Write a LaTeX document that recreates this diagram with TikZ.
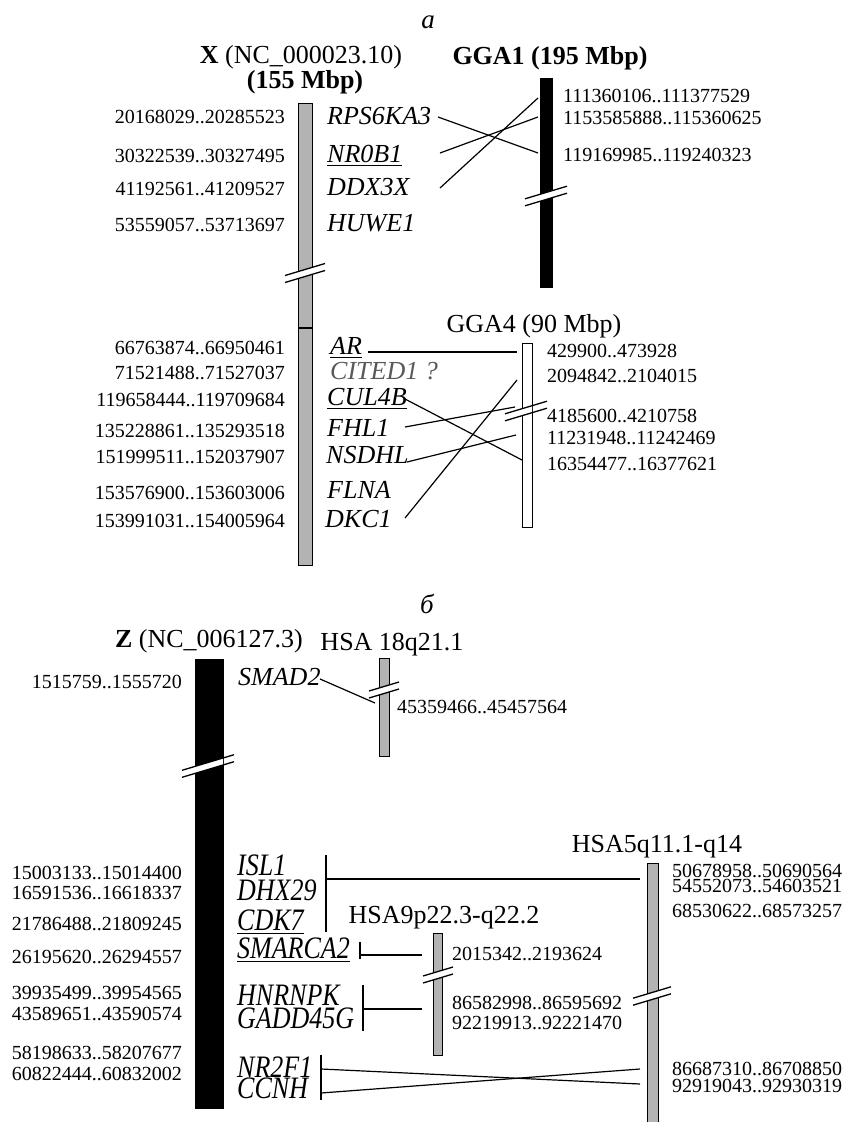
\documentclass[tikz,border=0pt]{standalone}
\usepackage{fontspec}
\setmainfont{Liberation Serif}
\definecolor{chrfill}{HTML}{B3B3B3}
\newcommand\gul[1]{\leavevmode\setbox0=\hbox{#1}\rlap{\vrule width \wd0 height -2.8pt depth 4.2pt}\box0}
\newcommand\vst[1]{\scalebox{1}[1.2]{#1}}
% break mark: centre x, centre y, half length of slash, half width of chromosome
\newcommand\chrbrk[4]{%
  \fill[white] ({#1-#4-1},{#2+0.3*(#4+1)-3.5}) -- ({#1+#4+1},{#2-0.3*(#4+1)-3.5}) -- ({#1+#4+1},{#2-0.3*(#4+1)+3.5}) -- ({#1-#4-1},{#2+0.3*(#4+1)+3.5}) -- cycle;
  \draw[slash] ({#1-#3},{#2+0.3*#3-3.5}) -- ({#1+#3},{#2-0.3*#3-3.5});
  \draw[slash] ({#1-#3},{#2+0.3*#3+3.5}) -- ({#1+#3},{#2-0.3*#3+3.5});}
\begin{document}
\begin{tikzpicture}[x=1pt,y=-1pt,
  num/.style={font=\fontsize{20}{22}\selectfont, inner sep=0pt},
  numL/.style={num, anchor=base east},
  numR/.style={num, anchor=base west},
  gene/.style={font=\fontsize{26}{28}\selectfont\itshape, inner sep=0pt, anchor=base west},
  ttl/.style={font=\fontsize{26}{28}\selectfont, inner sep=0pt, anchor=base},
  ttlb/.style={font=\fontsize{26}{28}\selectfont\bfseries, inner sep=0pt, anchor=base},
  lbl/.style={font=\fontsize{27}{28}\selectfont\itshape, inner sep=0pt, anchor=base},
  chrgray/.style={draw=black, line width=1.4pt, fill=chrfill, inner sep=0pt, anchor=north west},
  chrblack/.style={draw=black, fill=black, line width=0.5pt, inner sep=0pt, anchor=north west},
  chrwhite/.style={draw=black, fill=white, line width=1.4pt, inner sep=0pt, anchor=north west},
  link/.style={line width=1.2pt},
  slash/.style={line width=1.3pt}]
\useasboundingbox (0,0) rectangle (845,1122);
\clip (0,0) rectangle (845,1122);

% ================= part a =================
\node[lbl] (la) at (428,28) {а};
\node[ttl] (xt1) at (301,63) {\textbf{X} (NC\_000023.10)};
\node[ttlb] (xt2) at (305,88) {(155 Mbp)};
\node[ttlb] (g1t) at (550,64) {GGA1 (195 Mbp)};
\node[ttl] (g4t) at (534,332) {GGA4 (90 Mbp)};

% chromosomes
\node[chrgray, minimum width=14, minimum height=462] (X) at (298,103) {};
\draw[line width=1.4pt] (298,328) -- (312,328);
\node[chrblack, minimum width=12, minimum height=209] (G1) at (540,78) {};
\node[chrwhite, minimum width=10, minimum height=184] (G4) at (522,343) {};
\chrbrk{305}{273}{20}{7}
\chrbrk{546}{196}{21}{6}
\chrbrk{526}{411}{21}{5}

% left numbers of X
\node[numL] (n1) at (285,123) {20168029..20285523};
\node[numL] (n2) at (285,162) {30322539..30327495};
\node[numL] (n3) at (285,195) {41192561..41209527};
\node[numL] (n4) at (285,231) {53559057..53713697};
\node[numL] (n5) at (285,354) {66763874..66950461};
\node[numL] (n6) at (285,379) {71521488..71527037};
\node[numL] (n7) at (285,406) {119658444..119709684};
\node[numL] (n8) at (285,437) {135228861..135293518};
\node[numL] (n9) at (285,463) {151999511..152037907};
\node[numL] (n10) at (285,499) {153576900..153603006};
\node[numL] (n11) at (285,527) {153991031..154005964};

% genes of X
\node[gene] (rps) at (327,124) {RPS6KA3};
\node[gene] (nr0) at (327,162) {\gul{NR0B1}};
\node[gene] (ddx) at (327,195) {DDX3X};
\node[gene] (huw) at (327,231) {HUWE1};
\node[gene] (ar) at (330,354) {\gul{AR}};
\node[gene, text=black!65] (cit) at (330,379) {CITED1 ?};
\node[gene] (cul) at (327,405) {\gul{CUL4B}};
\node[gene] (fhl) at (327,436) {FHL1};
\node[gene] (nsd) at (326,463) {NSDHL};
\node[gene] (fln) at (327,498) {FLNA};
\node[gene] (dkc) at (325,527) {DKC1};

% numbers of GGA1 and GGA4
\node[numR] (m1) at (563,102) {111360106..111377529};
\node[numR] (m2) at (563,124) {1153585888..115360625};
\node[numR] (m3) at (563,161) {119169985..119240323};
\node[numR] (k1) at (547,357) {429900..473928};
\node[numR] (k2) at (547,382) {2094842..2104015};
\node[numR] (k3) at (547,422) {4185600..4210758};
\node[numR] (k4) at (547,444) {11231948..11242469};
\node[numR] (k5) at (547,470) {16354477..16377621};

% connector ends
\coordinate (rpsS) at (438,117); \coordinate (rpsE) at (538,153);
\coordinate (nr0S) at (440,153); \coordinate (nr0E) at (538,117);
\coordinate (ddxS) at (440,188); \coordinate (ddxE) at (538,98);
\coordinate (arS) at (368,352);  \coordinate (arE) at (517,352);
\coordinate (culS) at (405,399); \coordinate (culE) at (522,460);
\coordinate (fhlS) at (405,427); \coordinate (fhlE) at (515,407);
\coordinate (nsdS) at (407,462); \coordinate (nsdE) at (516,435);
\coordinate (dkcS) at (405,518); \coordinate (dkcE) at (517,380);
\draw[link] (rpsS) -- (rpsE);
\draw[link] (nr0S) -- (nr0E);
\draw[link] (ddxS) -- (ddxE);
\draw[link] (arS) -- (arE);
\draw[link] (culS) -- (culE);
\draw[link] (fhlS) -- (fhlE);
\draw[link] (nsdS) -- (nsdE);
\draw[link] (dkcS) -- (dkcE);

% ================= part b =================
\node[lbl] (lb) at (427,613) {б};
\node[ttl] (zt) at (209,647) {\textbf{Z} (NC\_006127.3)};
\node[ttl] (h18t) at (392,650) {HSA 18q21.1};
\node[ttl] (h9t) at (444,923) {HSA9p22.3-q22.2};
\node[ttl] (h5t) at (657,852) {HSA5q11.1-q14};

\node[chrblack, minimum width=28, minimum height=449] (Z) at (195,659) {};
\node[chrgray, minimum width=10, minimum height=98] (H18) at (379,658) {};
\node[chrgray, minimum width=9, minimum height=122] (H9) at (433,933) {};
\node[chrgray, minimum width=11, minimum height=290] (H5) at (647,863) {};
\chrbrk{208}{766}{26}{14}
\chrbrk{384}{690}{15}{5}
\chrbrk{438}{975}{15}{5}
\chrbrk{652}{996}{19}{6}

% left numbers of Z
\node[numL] (z0) at (182,688) {1515759..1555720};
\node[numL] (z1) at (182,879) {15003133..15014400};
\node[numL] (z2) at (182,899) {16591536..16618337};
\node[numL] (z3) at (182,930) {21786488..21809245};
\node[numL] (z4) at (182,963) {26195620..26294557};
\node[numL] (z5) at (182,999) {39935499..39954565};
\node[numL] (z6) at (182,1020) {43589651..43590574};
\node[numL] (z7) at (182,1059) {58198633..58207677};
\node[numL] (z8) at (182,1080) {60822444..60832002};

% genes of Z
\node[gene] (smad) at (238,685) {SMAD2};
\node[gene] (isl) at (237,875) {\vst{ISL1}};
\node[gene] (dhx) at (237,900) {\vst{DHX29}};
\node[gene] (cdk) at (237,930) {\gul{\vst{CDK7}}};
\node[gene] (sma) at (237,958) {\gul{\vst{SMARCA2}}};
\node[gene] (hnr) at (237,1005) {\vst{HNRNPK}};
\node[gene] (gad) at (237,1028) {\vst{GADD45G}};
\node[gene] (nr2) at (237,1077) {\vst{NR2F1}};
\node[gene] (ccn) at (237,1098) {\vst{CCNH}};

% numbers of human segments
\node[numR] (h18a) at (397,713) {45359466..45457564};
\node[numR] (h9a) at (452,960) {2015342..2193624};
\node[numR] (h9b) at (452,1009) {86582998..86595692};
\node[numR] (h9c) at (452,1029) {92219913..92221470};
\node[numR] (h5a) at (672,877) {50678958..50690564};
\node[numR] (h5b) at (672,892) {54552073..54603521};
\node[numR] (h5c) at (672,917) {68530622..68573257};
\node[numR] (h5d) at (672,1075) {86687310..86708850};
\node[numR] (h5e) at (672,1092) {92919043..92930319};

% connectors part b
\coordinate (smS) at (320,679); \coordinate (smE) at (375,703);
\draw[link] (smS) -- (smE);
\coordinate (b1t) at (326,855); \coordinate (b1b) at (326,932);
\coordinate (b1m) at (326,879); \coordinate (b1e) at (640,879);
\draw[link] (b1t) -- (b1b);
\draw[link] (b1m) -- (b1e);
\coordinate (b2t) at (360,942); \coordinate (b2b) at (360,959);
\coordinate (b2m) at (360,955); \coordinate (b2e) at (422,955);
\draw[link] (b2t) -- (b2b);
\draw[link] (b2m) -- (b2e);
\coordinate (b3t) at (363,985); \coordinate (b3b) at (363,1031);
\coordinate (b3m) at (363,1009); \coordinate (b3e) at (422,1009);
\draw[link] (b3t) -- (b3b);
\draw[link] (b3m) -- (b3e);
\coordinate (b4t) at (321,1055); \coordinate (b4b) at (321,1100);
\coordinate (b4u) at (321,1069); \coordinate (b4l) at (321,1093);
\coordinate (b4eu) at (640,1069); \coordinate (b4el) at (640,1084);
\draw[link] (b4t) -- (b4b);
\draw[link] (b4u) -- (b4el);
\draw[link] (b4l) -- (b4eu);
\end{tikzpicture}
\end{document}
